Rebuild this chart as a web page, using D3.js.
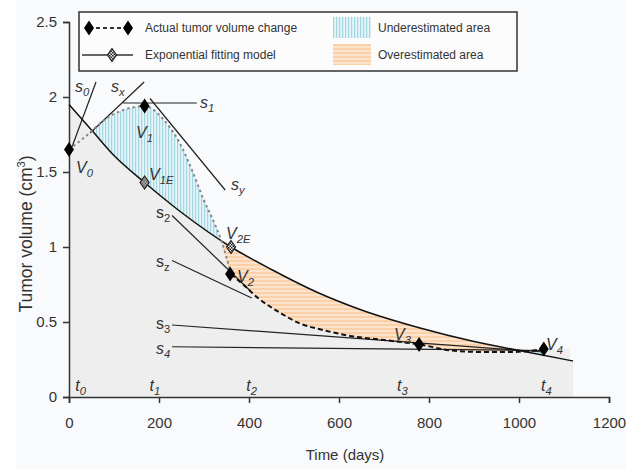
<!DOCTYPE html>
<html lang="en">
<head>
  <meta charset="UTF-8">
  <title>Tumor volume</title>
  <script src="https://d3js.org/d3.v7.min.js"></script>
  <style>
    body { margin: 0; background: #fff; }
    text { font-family: "Liberation Sans", Arial, sans-serif; fill: #333; }
  </style>
</head>
<body>
  <svg width="641" height="469"></svg>
  <script>
    // data
    const actualDays = [0, 30, 90, 140, 168, 210, 250, 275, 300, 320, 340, 360, 387, 420, 470, 513, 560, 620, 700, 780, 850, 920, 980, 1060];
    const actualVol  = [1.65, 1.72, 1.87, 1.93, 1.94, 1.85, 1.67, 1.50, 1.31, 1.18, 1.03, 0.82, 0.75, 0.66, 0.56, 0.49, 0.45, 0.41, 0.38, 0.35, 0.31, 0.30, 0.30, 0.32];
    const fitDays = [0, 50, 100, 168, 250, 360, 450, 550, 650, 780, 900, 1000, 1120];
    const fitVol  = [1.95, 1.78, 1.61, 1.43, 1.23, 1.00, 0.85, 0.70, 0.58, 0.46, 0.37, 0.31, 0.24];

    const actualPoints = [[0, 1.65], [168, 1.94], [358, 0.82], [778, 0.35], [1055, 0.32]];
    const fitPoints = [[168, 1.43], [360, 1.0]];

    // tangent lines: [x1, y1, x2, y2]
    const tangents = [
      [7, 1.67, 60, 2.1],
      [47, 1.76, 167, 2.1],
      [120, 1.96, 284, 1.96],
      [180, 1.99, 347, 1.38],
      [229, 1.21, 402, 0.71],
      [229, 0.91, 406, 0.66],
      [229, 0.48, 1055, 0.30],
      [229, 0.335, 1055, 0.31]
    ];
    const timeLabels = ["0", "1", "2", "3", "4"];
    const timeLabelDays = [25, 190, 405, 740, 1060];
    const crossDay = 340;   // where the actual curve drops under the fit
    const shadeEnd = 1113;

    const xTicks = [0, 200, 400, 600, 800, 1000, 1200];
    const yTicks = [0, 0.5, 1, 1.5, 2, 2.5];

    const svg = d3.select("svg");
    const x = d3.scaleLinear().domain([0, 1200]).range([69, 609]);
    const y = d3.scaleLinear().domain([0, 2.5]).range([397, 22]);

    svg.append("rect").attr("x", 16).attr("y", 0).attr("width", 610).attr("height", 469).attr("fill", "#f9fafc");

    const defs = svg.append("defs");
    const blue = defs.append("pattern").attr("id", "blueHatch").attr("patternUnits", "userSpaceOnUse")
      .attr("width", 3).attr("height", 3);
    blue.append("rect").attr("width", 3).attr("height", 3).attr("fill", "#e6f5f8");
    blue.append("rect").attr("width", 1.2).attr("height", 3).attr("fill", "#a2d6e2");
    const orange = defs.append("pattern").attr("id", "orangeHatch").attr("patternUnits", "userSpaceOnUse")
      .attr("width", 4).attr("height", 4);
    orange.append("rect").attr("width", 4).attr("height", 4).attr("fill", "#fde3cc");
    orange.append("rect").attr("width", 4).attr("height", 2).attr("fill", "#fad0a8");
    const check = defs.append("pattern").attr("id", "checker").attr("patternUnits", "userSpaceOnUse")
      .attr("width", 3).attr("height", 3);
    check.append("rect").attr("width", 3).attr("height", 3).attr("fill", "#eee");
    check.append("rect").attr("width", 1.5).attr("height", 1.5).attr("fill", "#222");
    check.append("rect").attr("x", 1.5).attr("y", 1.5).attr("width", 1.5).attr("height", 1.5).attr("fill", "#222");

    const actual = actualDays.map((d, i) => [d, actualVol[i]]);
    const fit = fitDays.map((d, i) => [d, fitVol[i]]);
    const actualShade = actual.concat([[shadeEnd, actualVol[actualVol.length - 1]]]);
    const actualAfter = actual.filter(d => d[0] >= crossDay);

    const curve = d3.curveMonotoneX;
    const line = d3.line().x(d => x(d[0])).y(d => y(d[1])).curve(curve);
    const under = d3.area().x(d => x(d[0])).y0(y(0)).y1(d => y(d[1])).curve(curve);
    const above = d3.area().x(d => x(d[0])).y0(0).y1(d => y(d[1])).curve(curve);

    defs.append("clipPath").attr("id", "aboveFit").append("path").attr("d", above(fit));
    defs.append("clipPath").attr("id", "aboveActual").append("path").attr("d", above(actualAfter));

    // shaded areas
    svg.append("path").attr("d", under(fit)).attr("fill", "#eeeeef");
    svg.append("path").attr("d", under(actualShade)).attr("fill", "#eeeeef");
    svg.append("path").attr("d", under(actual)).attr("fill", "url(#blueHatch)").attr("clip-path", "url(#aboveFit)");
    svg.append("path").attr("d", under(fit)).attr("fill", "url(#orangeHatch)").attr("clip-path", "url(#aboveActual)");

    // axes
    svg.append("g").attr("transform", `translate(0,${y(0)})`)
      .call(d3.axisBottom(x).tickValues(xTicks).tickSize(6).tickPadding(14).tickFormat(d3.format("d")))
      .call(g => g.selectAll("text").attr("font-size", 15).attr("fill", "#333"))
      .call(g => g.selectAll("line,path").attr("stroke", "#333").attr("stroke-width", 1.5));
    svg.append("g").attr("transform", `translate(${x(0)},0)`)
      .call(d3.axisLeft(y).tickValues(yTicks).tickSize(6).tickPadding(6).tickFormat(d => String(d)))
      .call(g => g.selectAll("text").attr("font-size", 15).attr("fill", "#333"))
      .call(g => g.selectAll("line,path").attr("stroke", "#333").attr("stroke-width", 1.5));

    // tangent lines
    svg.append("g").selectAll("line").data(tangents).join("line")
      .attr("x1", d => x(d[0])).attr("y1", d => y(d[1]))
      .attr("x2", d => x(d[2])).attr("y2", d => y(d[3]))
      .attr("stroke", "#222").attr("stroke-width", 1.2);

    // fitted curve
    svg.append("path").attr("d", line(fit)).attr("fill", "none").attr("stroke", "#111").attr("stroke-width", 1.5);

    // actual curve, dotted grey before V2, dashed black after
    const split = actualDays.indexOf(360);
    svg.append("path").attr("d", line(actual.slice(0, split + 1))).attr("fill", "none")
      .attr("stroke", "#888").attr("stroke-width", 2).attr("stroke-dasharray", "2.5,3");
    svg.append("path").attr("d", line(actual.slice(split))).attr("fill", "none")
      .attr("stroke", "#111").attr("stroke-width", 2).attr("stroke-dasharray", "5,3");

    const diamond = (w, h) => `M0,${-h}L${w},0L0,${h}L${-w},0Z`;
    svg.append("g").selectAll("path").data(actualPoints).join("path")
      .attr("d", diamond(5, 7.5)).attr("fill", "#000")
      .attr("transform", d => `translate(${x(d[0])},${y(d[1])})`);
    svg.append("g").selectAll("path").data(fitPoints).join("path")
      .attr("d", diamond(4.5, 6.5)).attr("fill", "url(#checker)").attr("stroke", "#222").attr("stroke-width", 1.2)
      .attr("transform", d => `translate(${x(d[0])},${y(d[1])})`);

    // labels with subscripts
    function sub(px, py, main, subText, italic, size) {
      const s = size || 16;
      const t = svg.append("text").attr("x", px).attr("y", py).attr("font-size", s)
        .attr("font-style", italic ? "italic" : "normal");
      t.append("tspan").text(main);
      t.append("tspan").text(subText).attr("font-size", s * 0.7).attr("dy", 4);
      return t;
    }
    sub(76, 173, "V", "0", true);
    sub(136, 138, "V", "1", true);
    sub(149, 180, "V", "1E", true);
    sub(226, 239, "V", "2E", true);
    sub(237, 282, "V", "2", true);
    sub(394, 340, "V", "3", true);
    sub(546, 350, "V", "4", true);
    sub(75, 92, "s", "0", true);
    sub(111, 92, "s", "x", true);
    sub(200, 108, "s", "1", true);
    sub(231, 190, "s", "y", true);
    sub(156, 218, "s", "2", false);
    sub(156, 267, "s", "z", false);
    sub(156, 329, "s", "3", false);
    sub(156, 354, "s", "4", true);
    timeLabels.forEach((s, i) => sub(x(timeLabelDays[i]) - 5, 391, "t", s, true));

    // axis titles
    svg.append("text").attr("x", 345).attr("y", 460).attr("text-anchor", "middle").attr("font-size", 15).text("Time (days)");
    const yl = svg.append("text").attr("transform", "translate(32,234) rotate(-90)").attr("text-anchor", "middle").attr("font-size", 17.5);
    yl.append("tspan").text("Tumor volume (cm");
    yl.append("tspan").text("3").attr("font-size", 11).attr("dy", -7);
    yl.append("tspan").text(")").attr("dy", 7);

    // legend
    const lg = svg.append("g");
    lg.append("rect").attr("x", 79).attr("y", 12).attr("width", 438).attr("height", 59)
      .attr("fill", "#fcfcfd").attr("stroke", "#333").attr("stroke-width", 1.5);
    lg.append("line").attr("x1", 89).attr("x2", 128).attr("y1", 28).attr("y2", 28)
      .attr("stroke", "#333").attr("stroke-width", 2).attr("stroke-dasharray", "4,3");
    lg.selectAll("path.a").data([89, 128]).join("path").attr("class", "a")
      .attr("d", diamond(5, 7.5)).attr("fill", "#000").attr("transform", d => `translate(${d},28)`);
    lg.append("line").attr("x1", 82).attr("x2", 133).attr("y1", 55).attr("y2", 55)
      .attr("stroke", "#333").attr("stroke-width", 1.5);
    lg.append("path").attr("d", diamond(4.5, 6.5)).attr("fill", "url(#checker)").attr("stroke", "#222")
      .attr("stroke-width", 1.2).attr("transform", "translate(112,55)");
    lg.append("rect").attr("x", 333).attr("y", 17).attr("width", 38).attr("height", 21).attr("fill", "url(#blueHatch)");
    lg.append("rect").attr("x", 333).attr("y", 44).attr("width", 38).attr("height", 21).attr("fill", "url(#orangeHatch)");
    const legendText = [[145, 32, "Actual tumor volume change"], [145, 59, "Exponential fitting model"],
                        [378, 32, "Underestimated area"], [378, 59, "Overestimated area"]];
    lg.selectAll("text").data(legendText).join("text")
      .attr("x", d => d[0]).attr("y", d => d[1]).attr("font-size", 12).text(d => d[2]);
  </script>
</body>
</html>
